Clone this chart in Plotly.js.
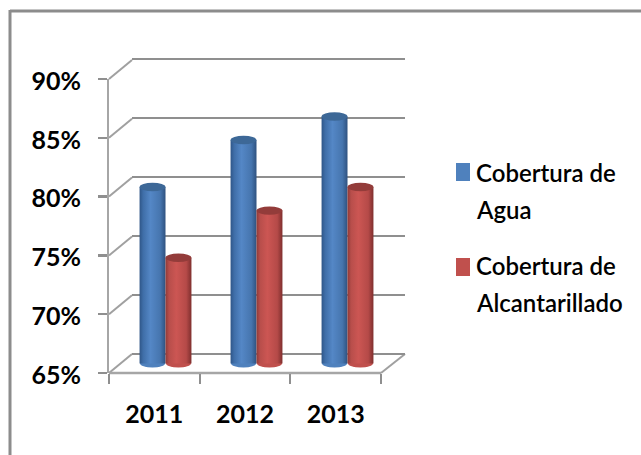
<!DOCTYPE html>
<html><head><meta charset="utf-8">
<script src="https://cdn.plot.ly/plotly-3.0.1.min.js"></script>
<style>html,body{margin:0;padding:0;background:#fff}#c{width:641px;height:455px}</style>
</head><body><div id="c"></div>
<script>
const years = ['2011', '2012', '2013'];
const seriesNames = ['Cobertura de Agua', 'Cobertura de Alcantarillado'];
const agua = [80, 84, 86];
const alcantarillado = [74, 78, 80];
const yTicks = [65, 70, 75, 80, 85, 90];
const yTickLabels = ['65%', '70%', '75%', '80%', '85%', '90%'];
const legendLines = [['Cobertura de', 'Agua'], ['Cobertura de', 'Alcantarillado']];
const seriesColors = ['#4f81bd', '#c0504d'];
const topColors = ['#3d6897', '#933c3a'];
const edgeStops = [
  [['0%','#2f5688'],['14%','#3f6ea8'],['42%','#5487c6'],['80%','#4675ae'],['100%','#2f5280']],
  [['0%','#8f3a38'],['14%','#b84e4b'],['42%','#cc5653'],['80%','#b54a48'],['100%','#7f2f2e']]
];

const W = 641, H = 455;
const px = v => v / W, py = v => 1 - v / H;
const FONT = 'Lato, Carlito, sans-serif';
const GRID = '#8f8f8f';
const yRange = [65, 90];
const barW = 0.57 / 2, ellH = 0.36;
const catRange = [-0.5, 2.5];

const shapes = [];
const line = (x0, y0, x1, y1, color, width) => shapes.push({
  type: 'line', xref: 'paper', yref: 'paper', layer: 'below',
  x0: px(x0), y0: py(y0), x1: px(x1), y1: py(y1), line: {color, width}
});
line(10, 11, 641, 11, '#8c8c8c', 3);
line(10, 10, 10, 455, '#8c8c8c', 3);
yTicks.forEach(t => {
  const yf = 373 - (t - 65) * (373 - 79) / 25;
  line(109, yf, 132, yf - 19, '#a0a0a0', 2);
});
line(381, 373, 405, 354, '#a0a0a0', 2);
line(109, 373, 381, 373, '#a6a6a6', 2.5);

[agua, alcantarillado].forEach((vals, s) => {
  const off = s === 0 ? -barW / 2 : barW / 2;
  vals.forEach((v, i) => {
    const cx = i + off;
    shapes.push({type: 'circle', xref: 'x3', yref: 'paper', layer: 'below',
      x0: cx - barW / 2 + 0.005, x1: cx + barW / 2 - 0.005, y0: py(367.5), y1: py(359.5),
      fillcolor: seriesColors[s], line: {width: 0}});
    shapes.push({type: 'circle', xref: 'x3', yref: 'y3', layer: 'above',
      x0: cx - barW / 2, x1: cx + barW / 2, y0: v - ellH, y1: v + ellH,
      fillcolor: topColors[s], line: {width: 0}});
  });
  shapes.push({type: 'rect', xref: 'paper', yref: 'paper',
    x0: px(456), x1: px(470), y0: py(s === 0 ? 181 : 276), y1: py(s === 0 ? 163 : 258),
    fillcolor: seriesColors[s], line: {width: 0}});
});

const annotations = [];
legendLines.forEach((lines, s) => lines.forEach((txt, j) => annotations.push({
  text: txt, xref: 'paper', yref: 'paper', showarrow: false,
  x: px(474), y: py((s === 0 ? 172 : 265) + j * 37.5),
  xanchor: 'left', yanchor: 'middle',
  font: {family: FONT, size: 24, color: '#000', weight: 600}
})));

const data = [
  {type: 'scatter', x: years, y: [null, null, null], xaxis: 'x', yaxis: 'y', showlegend: false, hoverinfo: 'skip'},
  {type: 'scatter', x: years, y: [null, null, null], xaxis: 'x2', yaxis: 'y2', showlegend: false, hoverinfo: 'skip'},
  {type: 'bar', name: seriesNames[0], x: years, y: agua, xaxis: 'x3', yaxis: 'y3', marker: {color: seriesColors[0], line: {width: 0}}},
  {type: 'bar', name: seriesNames[1], x: years, y: alcantarillado, xaxis: 'x3', yaxis: 'y3', marker: {color: seriesColors[1], line: {width: 0}}}
];

const layout = {
  width: W, height: H, margin: {l: 0, r: 0, t: 0, b: 0, pad: 0},
  paper_bgcolor: '#fff', plot_bgcolor: 'rgba(0,0,0,0)', showlegend: false,
  barmode: 'group', bargap: 0.43, bargroupgap: 0,
  shapes, annotations,
  xaxis: {domain: [px(132), px(405)], type: 'category', categoryorder: 'array', categoryarray: years, range: catRange, visible: false, anchor: 'y'},
  yaxis: {domain: [py(354 + 5.9), py(59 - 5.9)], range: [64.5, 90.5], anchor: 'x', tickvals: yTicks, showticklabels: false,
    showgrid: true, gridcolor: GRID, gridwidth: 2, zeroline: false, showline: false, ticks: ''},
  xaxis2: {domain: [px(109), px(381)], type: 'category', categoryorder: 'array', categoryarray: years, range: catRange, anchor: 'y2', tickson: 'boundaries',
    showgrid: false, showline: false, ticks: 'outside', ticklen: 10, tickwidth: 2, tickcolor: '#8f8f8f',
    ticklabelstandoff: 24, tickfont: {family: FONT, size: 25, color: '#000', weight: 700}},
  yaxis2: {domain: [py(373), py(79)], range: yRange, anchor: 'x2', tickvals: yTicks, ticktext: yTickLabels,
    showgrid: false, zeroline: false, showline: true, linecolor: '#a6a6a6', linewidth: 2,
    ticks: 'outside', ticklen: 9, tickwidth: 2.5, tickcolor: '#8f8f8f',
    ticklabelstandoff: 12, ticklabelshift: 2, tickfont: {family: FONT, size: 25, color: '#000', weight: 700}},
  xaxis3: {domain: [px(120), px(393)], type: 'category', categoryorder: 'array', categoryarray: years, range: catRange, anchor: 'y3', visible: false},
  yaxis3: {domain: [py(363.5), py(69.5)], range: yRange, anchor: 'x3', visible: false}
};

Plotly.newPlot('c', data, layout, {displayModeBar: false, staticPlot: true}).then(gd => {
  const svg = gd.querySelector('svg.main-svg');
  const NS = 'http://www.w3.org/2000/svg';
  const defs = svg.querySelector('defs') || svg.insertBefore(document.createElementNS(NS, 'defs'), svg.firstChild);
  edgeStops.forEach((stops, s) => {
    const g = document.createElementNS(NS, 'linearGradient');
    g.setAttribute('id', 'cyl' + s);
    g.setAttribute('x1', '0'); g.setAttribute('x2', '1'); g.setAttribute('y1', '0'); g.setAttribute('y2', '0');
    stops.forEach(([o, c]) => {
      const st = document.createElementNS(NS, 'stop');
      st.setAttribute('offset', o); st.setAttribute('stop-color', c);
      g.appendChild(st);
    });
    defs.appendChild(g);
  });
  gd.querySelectorAll('.barlayer .trace').forEach((t, s) => {
    t.querySelectorAll('.point path').forEach(p => { p.style.fill = 'url(#cyl' + s + ')'; p.style.fillOpacity = 1; });
  });
});
</script></body></html>
